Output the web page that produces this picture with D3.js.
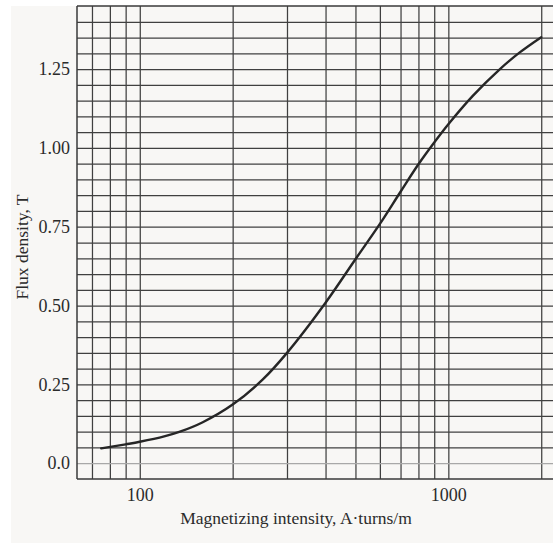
<!DOCTYPE html>
<html>
<head>
<meta charset="utf-8">
<title>Magnetization curve</title>
<script src="https://cdn.jsdelivr.net/npm/d3@7"></script>
<style>
  body { margin: 0; background: #ffffff; }
  .grid line { stroke: #404040; stroke-width: 1.25px; }
  .grid path { display: none; }
  .labels path, .labels line { display: none; }
  .labels text, .axis-title { font-family: "Liberation Serif", "DejaVu Serif", serif; fill: #2b2b2b; }
</style>
</head>
<body>
<div id="chart"></div>
<script>

// Magnetizing intensity H (A-turns/m)
var fieldH = [75, 90, 100, 120, 135, 160, 200, 250, 300, 400, 500, 600, 700, 800, 900, 1000, 1200, 1470, 1700, 2000];
// Flux density B (T) at the same points
var fluxB = [0.047, 0.060, 0.068, 0.085, 0.100, 0.130, 0.186, 0.265, 0.350, 0.509, 0.647, 0.759, 0.861, 0.948, 1.017, 1.075, 1.165, 1.250, 1.302, 1.351];

// grid values and labelled ticks
var gridH = [70, 80, 90, 100, 200, 300, 400, 500, 600, 700, 800, 900, 1000, 2000];
var gridB = [0, 0.05, 0.1, 0.15, 0.2, 0.25, 0.3, 0.35, 0.4, 0.45, 0.5, 0.55, 0.6, 0.65, 0.7,
             0.75, 0.8, 0.85, 0.9, 0.95, 1.0, 1.05, 1.1, 1.15, 1.2, 1.25, 1.3, 1.35, 1.4];
var tickH = [100, 1000];
var tickB = [0, 0.25, 0.5, 0.75, 1.0, 1.25];

var xTitle = "Magnetizing intensity, A\u00b7turns/m";
var yTitle = "Flux density, T";


FluxChart = function(_parentElement){
  this.parentElement = _parentElement;
  this.initVis();
}

FluxChart.prototype.initVis = function(){
  var vis = this;

  vis.W = 553;
  vis.H = 543;
  vis.left = 77; vis.right = 554; vis.top = 6; vis.bottom = 479;

  vis.svg = d3.select("#" + vis.parentElement).append("svg")
    .attr("width", vis.W)
    .attr("height", vis.H);

  // paper background (page is white above and to the left)
  vis.svg.append("rect")
    .attr("x", 11).attr("y", 6)
    .attr("width", vis.W - 11).attr("height", vis.H - 6)
    .attr("fill", "#f8f7f5");

  // Scales
  vis.x = d3.scaleLog()
    .domain([62.6, 2200])
    .range([vis.left, vis.right]);

  vis.y = d3.scaleLinear()
    .domain([-0.05, 1.45])
    .range([vis.bottom, vis.top]);

  // vertical grid
  vis.svg.append("g")
    .attr("class", "grid")
    .attr("transform", "translate(0," + vis.bottom + ")")
    .call(d3.axisBottom(vis.x).tickValues(gridH).tickSize(-(vis.bottom - vis.top)).tickFormat(""));

  // horizontal grid
  vis.svg.append("g")
    .attr("class", "grid")
    .attr("transform", "translate(" + vis.left + ",0)")
    .call(d3.axisLeft(vis.y).tickValues(gridB).tickSize(-(vis.right - vis.left)).tickFormat(""));

  // zero line is printed lighter
  vis.svg.selectAll(".grid .tick line")
    .filter(function(d){ return d === 0; })
    .style("stroke", "#a8a8a8");

  // frame: left, bottom and top edges
  vis.svg.append("line")
    .attr("x1", vis.left).attr("x2", vis.left)
    .attr("y1", vis.top).attr("y2", vis.bottom)
    .attr("stroke", "#3a3a3a").attr("stroke-width", 1.5);
  vis.svg.append("line")
    .attr("x1", vis.left).attr("x2", vis.right)
    .attr("y1", vis.bottom).attr("y2", vis.bottom)
    .attr("stroke", "#3a3a3a").attr("stroke-width", 1.5);
  vis.svg.append("line")
    .attr("x1", vis.left).attr("x2", vis.right)
    .attr("y1", vis.top).attr("y2", vis.top)
    .attr("stroke", "#3a3a3a").attr("stroke-width", 1.3);

  // tick labels
  vis.svg.append("g")
    .attr("class", "labels")
    .attr("transform", "translate(0," + vis.bottom + ")")
    .call(d3.axisBottom(vis.x).tickValues(tickH).tickSize(0).tickPadding(9).tickFormat(d3.format("d")))
    .selectAll("text").style("font-size", "18px");

  vis.svg.append("g")
    .attr("class", "labels")
    .attr("transform", "translate(" + vis.left + ",0)")
    .call(d3.axisLeft(vis.y).tickValues(tickB).tickSize(0).tickPadding(7)
      .tickFormat(function(d){ return d === 0 ? "0.0" : d3.format(".2f")(d); }))
    .selectAll("text").style("font-size", "18px");

  // axis titles
  vis.svg.append("text")
    .attr("class", "axis-title")
    .attr("x", 296)
    .attr("y", 524)
    .attr("text-anchor", "middle")
    .style("font-size", "17.5px")
    .text(xTitle);

  vis.svg.append("text")
    .attr("class", "axis-title")
    .attr("transform", "translate(28,247) rotate(-90)")
    .attr("text-anchor", "middle")
    .style("font-size", "17.5px")
    .text(yTitle);

  // the B-H curve
  var line = d3.line()
    .x(function(d){ return vis.x(d.h); })
    .y(function(d){ return vis.y(d.b); })
    .curve(d3.curveCatmullRom.alpha(0.5));

  vis.points = fieldH.map(function(h, i){ return {h: h, b: fluxB[i]}; });

  vis.svg.append("path")
    .datum(vis.points)
    .attr("d", line)
    .attr("fill", "none")
    .attr("stroke", "#262626")
    .attr("stroke-width", 2.4)
    .attr("stroke-linecap", "round");
}

var chart = new FluxChart("chart");
</script>
</body>
</html>
